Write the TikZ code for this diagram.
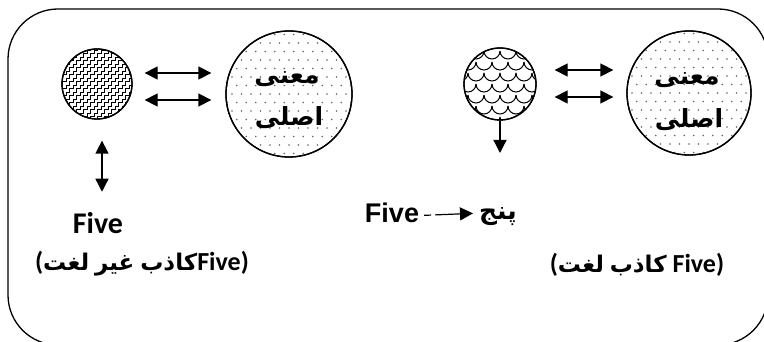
\documentclass[tikz,border=0pt]{standalone}
\usepackage{fontspec}
\usetikzlibrary{arrows.meta,calc}
\TeXXeTstate=1
\newfontfamily\arabicfont[Script=Arabic]{DejaVu Sans}
\newfontfamily\carlitofont{Carlito}
\newfontfamily\arialfont{Liberation Sans}
\newcommand\arw[1]{\hbox{\arabicfont\bfseries\fontsize{23}{26}\selectfont\beginR #1\endR}}
\begin{document}
\begin{tikzpicture}[x=1pt,y=1pt,
  artxt/.style={font=\arabicfont\bfseries\fontsize{25}{30}\selectfont, inner sep=0pt},
  bigfive/.style={font=\carlitofont\bfseries\fontsize{30}{34}\selectfont, inner sep=0pt, anchor=base},
  midfive/.style={font=\arialfont\bfseries\fontsize{27}{30}\selectfont, inner sep=0pt, anchor=base},
  labtxt/.style={font=\carlitofont\bfseries\fontsize{26}{30}\selectfont, inner sep=0pt, anchor=base},
  tip/.tip={Triangle[length=13pt,width=13pt]},
  dbl/.style={tip-tip, line width=1.3pt},
  sgl/.style={-tip, line width=1.3pt},
  ring/.style={circle, draw, line width=1.3pt, inner sep=0pt},
  dotc/.style={fill=black!60}]
\useasboundingbox (0,0) rectangle (764,342);
\begin{scope}
  \clip (0,0) rectangle (764,342);
  \draw[line width=1.3pt, rounded corners=50pt] (8,333) rectangle (768,-3);
\end{scope}

% ---------- left group ----------
\node[ring, minimum size=70pt] (c1) at (97,258) {};
\begin{scope}
  \clip (c1.center) circle (35pt);
  \foreach \k in {-22,...,10}
    \draw[line width=0.9pt] ($(c1.center)+(\k*7-10,-50)$)
      \foreach \i in {1,...,30}{ -- ++(3.5,0) -- ++(0,3.5)};
\end{scope}
\draw[line width=1.3pt] (c1.center) circle (35pt);

\node[ring, minimum size=126pt, fill=white] (b1) at (289,248) {};
\begin{scope}
  \clip (b1.center) circle (63pt);
  \foreach \j in {-8,...,8}
    \foreach \i in {-11,...,11}
      \fill[dotc] ($(b1.center)+(\i*9.5+\j*4.75,\j*8.5)$) circle (0.85pt);
\end{scope}
\draw[line width=1.3pt] (b1.center) circle (63pt);
\node[artxt] (m1) at (287,263) {\beginR معنی\endR};
\node[artxt] (s1) at (289,224) {\beginR اصلی\endR};

\draw[dbl] ([xshift=12pt,yshift=11pt]c1.east) -- ([xshift=-14pt,yshift=21pt]b1.west);
\draw[dbl] ([xshift=12pt,yshift=-16pt]c1.east) -- ([xshift=-14pt,yshift=-6pt]b1.west);

\node[bigfive] (f1) at (98,108) {Five};
\draw[dbl, shorten <=21pt, shorten >=21pt] ([xshift=5pt]c1.south) -- ([xshift=5pt]c1.south |- f1.north);

\node[labtxt] (l1) at (142,71) {(\arw{لغت} \arw{غیر} \arw{کاذب}Five)};

% ---------- right group ----------
\node[ring, minimum size=72pt] (c2) at (500,258) {};
\begin{scope}
  \clip (c2.center) circle (36pt);
  \foreach \j in {-4,...,4}
    \foreach \i in {-6,...,6}
      \draw[line width=1pt] ($(c2.center)+(\i*16+\j*8-8,\j*11)$) arc[start angle=180,end angle=360,radius=8];
\end{scope}
\draw[line width=1.3pt] (c2.center) circle (36pt);

\node[ring, minimum size=124pt, fill=white] (b2) at (689,249) {};
\begin{scope}
  \clip (b2.center) circle (62pt);
  \foreach \j in {-8,...,8}
    \foreach \i in {-11,...,11}
      \fill[dotc] ($(b2.center)+(\i*9.5+\j*4.75,\j*8.5)$) circle (0.85pt);
\end{scope}
\draw[line width=1.3pt] (b2.center) circle (62pt);
\node[artxt] (m2) at (687,262) {\beginR معنی\endR};
\node[artxt] (s2) at (689,222) {\beginR اصلی\endR};

\draw[dbl] ([xshift=18pt,yshift=14pt]c2.east) -- ([xshift=-13pt,yshift=23pt]b2.west);
\draw[dbl] ([xshift=18pt,yshift=-13pt]c2.east) -- ([xshift=-13pt,yshift=-4pt]b2.west);

\coordinate (d2) at (500,189);
\draw[sgl] (c2.south) -- (d2);

% ---------- middle ----------
\node[midfive] (f2) at (392,119) {Five};
\node[artxt] (p2) at (498,125) {\beginR پنج\endR};
\draw[-tip, line width=1.2pt, dash pattern=on 7pt off 4pt on 80pt]
  ([xshift=5pt,yshift=-2pt]f2.east) -- ([xshift=-6pt]f2.east -| p2.west);

\node[labtxt] (l2) at (637,69) {(\arw{لغت} \arw{کاذب} Five)};
\end{tikzpicture}
\end{document}
